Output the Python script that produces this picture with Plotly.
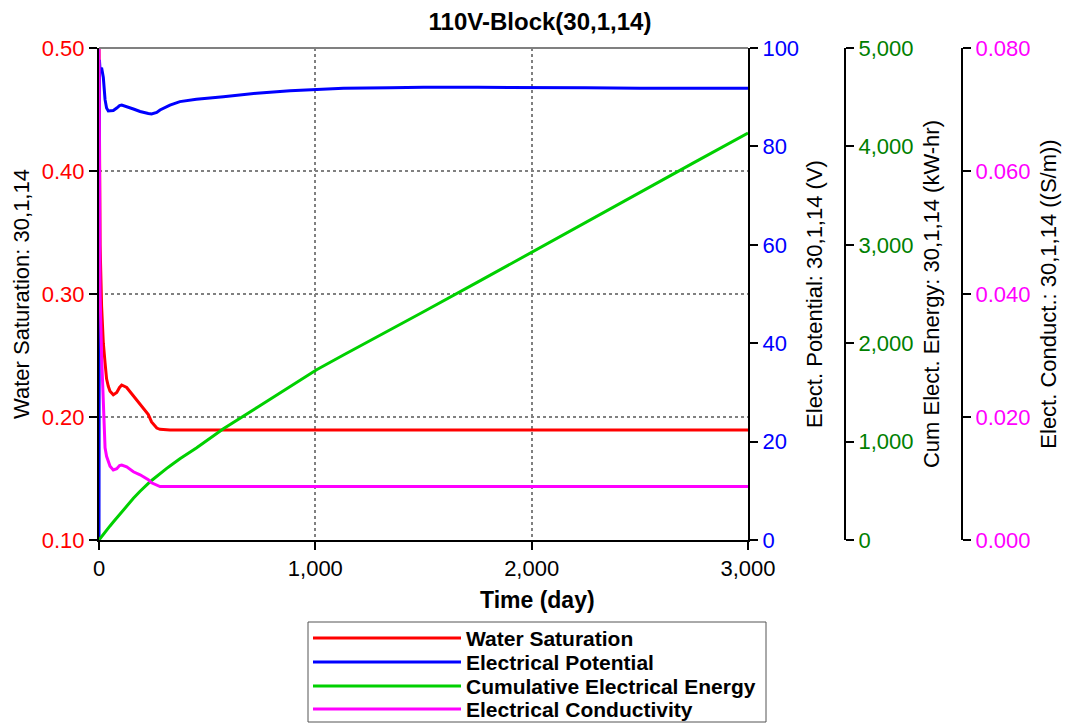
import plotly.graph_objects as go

# ---------------- data ----------------
time_day = [0, 2, 5, 12, 20, 28, 35, 43, 51, 66, 82, 95, 105, 128, 151, 159, 190, 205,
            228, 243, 267, 282, 313, 328, 374, 450, 575, 729, 883, 1006, 1130, 1345,
            1500, 1750, 2000, 2250, 2500, 2750, 3000]

water_saturation = [0.50, 0.42, 0.34, 0.29, 0.260, 0.244, 0.231, 0.225, 0.221, 0.218, 0.220,
                    0.224, 0.226, 0.224, 0.219, 0.217, 0.210, 0.207, 0.202, 0.196, 0.191,
                    0.190, 0.1895, 0.1894, 0.1894, 0.1894, 0.1894, 0.1894, 0.1894, 0.1894,
                    0.1894, 0.1894, 0.1894, 0.1894, 0.1894, 0.1894, 0.1894, 0.1894, 0.1894]

elect_potential = [0, 97.6, 95.5, 96.0, 94.0, 89.5, 87.8, 87.2, 87.2, 87.3, 87.8, 88.3, 88.4,
                   88.1, 87.7, 87.6, 87.1, 86.9, 86.7, 86.6, 86.9, 87.4, 88.0, 88.4, 89.1,
                   89.6, 90.1, 90.8, 91.3, 91.6, 91.8, 91.9, 92.0, 92.0, 92.0, 91.9, 91.8,
                   91.8, 91.8]

cum_energy = [0, 6, 15, 35, 58, 80, 100, 122, 143, 182, 224, 257, 282, 340, 400, 424, 495,
              530, 575, 605, 650, 676, 728, 752, 825, 935, 1130, 1345, 1555, 1730, 1880,
              2140, 2320, 2620, 2925, 3230, 3530, 3835, 4135]

elect_conduct = [0.080, 0.060, 0.040, 0.030, 0.0206, 0.0150, 0.0136, 0.0128, 0.0120, 0.0114,
                 0.0116, 0.0121, 0.0122, 0.0119, 0.0114, 0.0111, 0.0106, 0.0103, 0.0098,
                 0.0093, 0.0089, 0.0087, 0.0087, 0.0087, 0.0087, 0.0087, 0.0087, 0.0087,
                 0.0087, 0.0087, 0.0087, 0.0087, 0.0087, 0.0087, 0.0087, 0.0087, 0.0087,
                 0.0087, 0.0087]

series_names = ["Water Saturation", "Electrical Potential",
                "Cumulative Electrical Energy", "Electrical Conductivity"]
series_colors = ["#ff0000", "#0000ff", "#00d000", "#ff00ff"]

x_ticks = [0, 1000, 2000, 3000]

# ---------------- layout constants ----------------
# the page body has an 8px margin, so the figure is 16px smaller than the window
OFF = 8
W, H = 1064, 720
ML, MR, MT, MB = 91, 0, 40, 188
PW = W - ML - MR
PH = H - MT - MB
FONT = "Arial, Liberation Sans, sans-serif"


def px_x(px):
    """screen x -> paper x"""
    return (px - OFF - ML) / PW


def px_y(py):
    """screen y -> paper y"""
    return (H - MB - (py - OFF)) / PH


fig = go.Figure()
ys = [water_saturation, elect_potential, cum_energy, elect_conduct]
yaxes = ["y", "y2", "y3", "y4"]
for name, col, yv, ya in zip(series_names, series_colors, ys, yaxes):
    fig.add_trace(go.Scatter(x=time_day, y=yv, name=name, mode="lines",
                             line=dict(color=col, width=3), yaxis=ya,
                             showlegend=False))

tick_common = dict(ticks="outside", ticklen=8, tickwidth=1.5, tickcolor="black",
                   showline=True, linecolor="black", linewidth=2, automargin=False)
TF = 22   # tick font
AF = 22   # axis title font

fig.update_layout(
    width=W, height=H,
    margin=dict(l=ML, r=MR, t=MT, b=MB, autoexpand=False),
    paper_bgcolor="white", plot_bgcolor="white",
    font=dict(family=FONT, size=TF, color="black"),
    title=dict(text="<b>110V-Block(30,1,14)</b>", x=0.5, xref="container", xanchor="center",
               y=1 - 14 / H, yref="container", yanchor="middle",
               font=dict(size=24, color="black")),
    xaxis=dict(domain=[0, px_x(748)], range=[0, 3000], tickvals=x_ticks,
               tickformat=",", tickfont=dict(size=TF, color="black"),
               showgrid=True, gridcolor="#808080", griddash="dot", gridwidth=1.5,
               zeroline=False, **tick_common),
    yaxis=dict(range=[0.1, 0.5], dtick=0.1, tickformat=".2f",
               tickfont=dict(size=TF, color="#ff0000"),
               showgrid=True, gridcolor="#808080", griddash="dot", gridwidth=1.5,
               zeroline=False,
               title=dict(text="Water Saturation: 30,1,14", font=dict(size=AF), standoff=6),
               **tick_common),
    yaxis2=dict(range=[0, 100], dtick=20, overlaying="y", side="right", anchor="x",
                tickfont=dict(size=TF, color="#0000ff"), showgrid=False, zeroline=False,
                title=dict(text="Elect. Potential: 30,1,14 (V)", font=dict(size=AF), standoff=8),
                **tick_common),
    yaxis3=dict(range=[0, 5000], dtick=1000, tickformat=",", overlaying="y", side="right",
                anchor="free", position=px_x(845),
                tickfont=dict(size=TF, color="#008000"), showgrid=False, zeroline=False,
                title=dict(text="Cum Elect. Energy: 30,1,14 (kW-hr)", font=dict(size=AF), standoff=10),
                **tick_common),
    yaxis4=dict(range=[0, 0.08], dtick=0.02, tickformat=".3f", overlaying="y", side="right",
                anchor="free", position=px_x(962),
                tickfont=dict(size=TF, color="#ff00ff"), showgrid=False, zeroline=False,
                title=dict(text="Elect. Conduct.: 30,1,14 ((S/m))", font=dict(size=AF), standoff=10),
                **tick_common),
)

# x-axis title (centred on the figure, as in the reference)
fig.add_annotation(xref="paper", yref="paper", x=px_x(537), y=px_y(600),
                   xanchor="center", yanchor="middle", showarrow=False,
                   text="<b>Time (day)</b>", font=dict(size=23, color="black"))

# gray top frame line
fig.add_shape(type="line", xref="x domain", yref="y domain", x0=0, x1=1, y0=1, y1=1,
              line=dict(color="#808080", width=2))

# ---------------- custom legend ----------------
fig.add_shape(type="rect", xref="paper", yref="paper",
              x0=px_x(308), x1=px_x(766), y0=px_y(622), y1=px_y(722),
              line=dict(color="#555555", width=1), fillcolor="white")
row_y = [638, 662, 686, 709]
for name, col, ry in zip(series_names, series_colors, row_y):
    fig.add_shape(type="line", xref="paper", yref="paper",
                  x0=px_x(313), x1=px_x(461), y0=px_y(ry), y1=px_y(ry),
                  line=dict(color=col, width=3))
    fig.add_annotation(xref="paper", yref="paper", x=px_x(464), y=px_y(ry),
                       xanchor="left", yanchor="middle", showarrow=False,
                       text=f"<b>{name}</b>", font=dict(size=21, color="black"))

fig.write_html("out.html")
